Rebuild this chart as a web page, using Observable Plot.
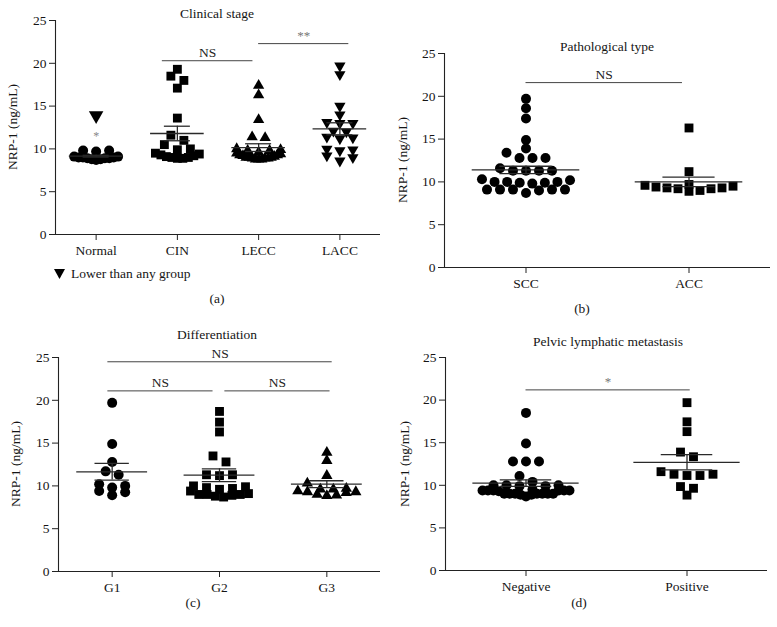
<!DOCTYPE html>
<html><head><meta charset="utf-8">
<script src="https://cdn.jsdelivr.net/npm/d3@7"></script>
<script src="https://cdn.jsdelivr.net/npm/@observablehq/plot@0.6"></script>
<style>
body{margin:0;background:#fff;}
#root{position:relative;width:777px;height:627px;font-family:"Liberation Serif","Times New Roman",serif;color:#151515;overflow:hidden;}
.lbl{position:absolute;transform:translate(-50%,-50%);white-space:nowrap;font-size:13.5px;line-height:1;}
.ylab{position:absolute;transform:translate(-50%,-50%) rotate(-90deg);white-space:nowrap;font-size:13.5px;line-height:1;}
.panel{position:absolute;}
.panel svg{overflow:visible;}
</style></head><body><div id="root"></div>
<script>
// ---------- DATA ----------
// (a) Clinical stage
const stageCats = ["Normal", "CIN", "LECC", "LACC"];
const stageNormal = [9.8, 9.7, 9.8, 9.0, 8.9, 8.8, 9.1, 8.9, 9.0, 8.8, 8.7, 9.0, 8.9, 9.1];
const stageCIN = [19.3, 18.5, 18.0, 17.1, 13.6, 11.6, 11.0, 10.5, 10.0, 9.9, 9.5, 9.3, 9.2, 9.0, 9.0, 8.9, 8.9, 9.1, 9.4];
const stageLECC = [17.4, 16.3, 13.4, 11.4, 11.3, 10.0, 9.9, 9.8, 9.8, 9.6, 9.5, 9.4, 9.3, 9.3, 9.2, 9.1, 9.0, 9.0, 8.9, 8.9, 8.8, 8.8, 8.8, 8.9, 9.0];
const stageLACC = [19.7, 18.7, 15.0, 14.0, 13.0, 13.0, 13.1, 12.1, 12.0, 11.4, 11.3, 11.2, 10.0, 9.9, 9.8, 9.2, 9.0, 8.6];
const stageMeans = [9.15, 11.8, 10.15, 12.35];
const stageSEMs = [0.1, 0.85, 0.45, 0.7];
const stageBrackets = [
  {x1: 0.815, x2: 1.93, y: 20.3, label: "NS"},
  {x1: 2.0, x2: 3.11, y: 22.3, label: "**"}
];
const stageLowerMark = [{cat: 0, value: 13.9}];
const stageStar = [{cat: 0, value: 11.8}];
const stageLegend = "Lower than any group";

// (b) Pathological type
const pathCats = ["SCC", "ACC"];
const pathSCC = [19.7, 18.6, 17.4, 14.9, 13.9, 13.4, 12.8, 12.8, 12.8, 11.6, 11.3, 11.3, 11.3, 11.3, 10.3, 10.2, 10.0, 10.0, 10.0, 9.9, 9.9, 9.8, 9.1, 9.1, 9.1, 9.0, 9.1, 9.1, 8.7];
const pathACC = [16.3, 11.2, 9.7, 9.6, 9.5, 9.4, 9.3, 9.3, 9.2, 9.2, 9.0, 8.9];
const pathMeans = [11.4, 10.0];
const pathSEMs = [0.43, 0.55];
const pathBrackets = [{x1: 0.0, x2: 0.96, y: 21.6, label: "NS"}];

// (c) Differentiation
const diffCats = ["G1", "G2", "G3"];
const diffG1 = [19.7, 14.9, 12.8, 11.7, 11.3, 10.2, 10.0, 9.8, 9.4, 9.25, 8.9];
const diffG2 = [18.7, 17.45, 16.3, 13.5, 12.8, 11.3, 11.2, 11.3, 10.0, 9.9, 9.8, 9.7, 9.6, 9.4, 9.1, 9.0, 8.9, 8.8, 8.7, 9.0, 9.0];
const diffG3 = [13.9, 12.95, 11.2, 10.3, 9.7, 9.6, 9.6, 9.4, 9.3, 9.3, 9.2, 9.0, 8.9, 8.85];
const diffMeans = [11.65, 11.25, 10.2];
const diffSEMs = [0.97, 0.75, 0.4];
const diffBrackets = [
  {x1: -0.04, x2: 2.05, y: 24.5, label: "NS"},
  {x1: -0.04, x2: 0.94, y: 21.1, label: "NS"},
  {x1: 1.05, x2: 2.03, y: 21.1, label: "NS"}
];

// (d) Pelvic lymphatic metastasis
const lymphCats = ["Negative", "Positive"];
const lymphNeg = [18.5, 14.9, 12.8, 12.8, 12.8, 11.1, 10.4, 10.0, 10.0, 10.0, 9.9, 9.9, 9.5, 9.4, 9.4, 9.4, 9.4, 9.4, 9.4, 9.3, 9.0, 9.0, 9.0, 9.0, 9.0, 9.0, 9.0, 8.9, 8.9, 8.7];
const lymphPos = [19.7, 17.45, 16.3, 13.9, 13.35, 11.6, 11.3, 11.3, 11.15, 11.15, 9.85, 9.65, 8.85];
const lymphMeans = [10.25, 12.7];
const lymphSEMs = [0.38, 0.9];
const lymphBrackets = [{x1: 0.0, x2: 1.02, y: 21.2, label: "*"}];

const yTicks = [0, 5, 10, 15, 20, 25];
const yTitle = "NRP-1 (ng/mL)";

// ---------- SYMBOLS ----------
const triangleDown = {
  draw(context, size) {
    const y = -Math.sqrt(size / (Math.sqrt(3) * 3));
    context.moveTo(0, -2 * y);
    context.lineTo(-Math.sqrt(3) * y, y);
    context.lineTo(Math.sqrt(3) * y, y);
    context.closePath();
  }
};
const SYM = {
  circle: {symbol: "circle", r: 5},
  square: {symbol: "square", r: 5},
  up: {symbol: "triangle", r: 4.2},
  down: {symbol: triangleDown, r: 4.2}
};

// ---------- LAYOUT (scatter-dot arrangement, GraphPad-like rows) ----------
function layout(values, stepPx) {
  const sorted = values.slice().sort((a, b) => a - b);
  const rows = [];
  let cur = null;
  for (const v of sorted) {
    if (!cur || v - cur.start >= 0.75) { cur = {start: v, vals: []}; rows.push(cur); }
    cur.vals.push(v);
  }
  const maxHalf = 0.27 * stepPx, sp = 13;
  const out = [];
  for (const row of rows) {
    const n = row.vals.length;
    let s = sp;
    if (n > 1 && (n - 1) * s / 2 > maxHalf) s = 2 * maxHalf / (n - 1);
    const slots = d3.range(n).map(j => (j - (n - 1) / 2) * s);
    slots.sort((a, b) => Math.abs(a) - Math.abs(b) || b - a);
    row.vals.forEach((v, k) => out.push({v, off: slots[k] / stepPx}));
  }
  return out;
}

function makePanel(cfg) {
  const {cats, groups, syms, means, sems, brackets, width, height, ml, mr, mt, mb, extra} = cfg;
  const n = cats.length;
  const stepPx = (width - ml - mr) / n;
  const lineColor = "#2a2a2a";
  const marks = [
    Plot.ruleY([0], {stroke: "#222", strokeWidth: 1.1}),
    Plot.ruleX([-0.5], {stroke: "#222", strokeWidth: 1.1}),
    Plot.axisX(d3.range(n), {tickFormat: i => cats[i], tickSize: 6, tickPadding: 5, label: null, stroke: "#222"}),
    Plot.axisY(yTicks, {tickSize: 6, tickPadding: 3, label: null, stroke: "#222"})
  ];
  groups.forEach((vals, i) => {
    const pts = layout(vals, stepPx).map(p => ({x: i + p.off, y: p.v}));
    marks.push(Plot.dot(pts, {x: "x", y: "y", r: syms[i].r, symbol: syms[i].symbol, fill: "#000"}));
  });
  const stats = means.map((m, i) => ({i, m, s: sems[i]}));
  marks.push(Plot.ruleY(stats, {y: "m", x1: d => d.i - 0.33, x2: d => d.i + 0.33, stroke: lineColor, strokeWidth: 1.3}));
  marks.push(Plot.ruleX(stats, {x: "i", y1: d => d.m - d.s, y2: d => d.m + d.s, stroke: lineColor, strokeWidth: 1.3}));
  marks.push(Plot.ruleY(stats.flatMap(d => [{i: d.i, y: d.m + d.s}, {i: d.i, y: d.m - d.s}]),
    {y: "y", x1: d => d.i - 0.16, x2: d => d.i + 0.16, stroke: lineColor, strokeWidth: 1.3}));
  marks.push(Plot.ruleY(brackets, {y: "y", x1: "x1", x2: "x2", stroke: "#444", strokeWidth: 1}));
  marks.push(Plot.text(brackets.filter(b => b.label === "NS"), {x: d => (d.x1 + d.x2) / 2, y: "y", text: "label", dy: -8, fill: "#222"}));
  marks.push(Plot.text(brackets.filter(b => b.label !== "NS"), {x: d => (d.x1 + d.x2) / 2, y: "y", text: "label", dy: -8, fill: "#777", fontSize: 13}));
  if (extra) marks.push(...extra);
  return Plot.plot({
    width, height, marginLeft: ml, marginRight: mr, marginTop: mt, marginBottom: mb,
    x: {domain: [-0.5, n - 0.5]},
    y: {domain: [0, 25]},
    style: {fontFamily: "'Liberation Serif', 'Times New Roman', serif", fontSize: "13.5px", color: "#151515", background: "transparent"},
    marks
  });
}

const root = document.getElementById("root");
function place(el, left, top) {
  const d = document.createElement("div");
  d.className = "panel";
  d.style.left = left + "px"; d.style.top = top + "px";
  d.appendChild(el); root.appendChild(d);
}
function label(text, x, y, cls = "lbl") {
  const d = document.createElement("div");
  d.className = cls; d.textContent = text;
  d.style.left = x + "px"; d.style.top = y + "px";
  root.appendChild(d);
}

// (a)
place(makePanel({
  cats: stageCats, groups: [stageNormal, stageCIN, stageLECC, stageLACC],
  syms: [SYM.circle, SYM.square, SYM.up, SYM.down],
  means: stageMeans, sems: stageSEMs, brackets: stageBrackets,
  width: 388, height: 262, ml: 55, mr: 8, mt: 20, mb: 28,
  extra: [
    Plot.dot(stageLowerMark, {x: "cat", y: "value", r: 5.4, symbol: triangleDown, fill: "#000"}),
    Plot.text(stageStar, {x: "cat", y: "value", text: () => "*", dy: 3, fill: "#888", fontSize: 12})
  ]
}), 0, 0);
// (b)
place(makePanel({
  cats: pathCats, groups: [pathSCC, pathACC], syms: [SYM.circle, SYM.square],
  means: pathMeans, sems: pathSEMs, brackets: pathBrackets,
  width: 387, height: 295, ml: 54, mr: 7, mt: 53, mb: 28
}), 390, 0);
// (c)
place(makePanel({
  cats: diffCats, groups: [diffG1, diffG2, diffG3], syms: [SYM.circle, SYM.square, SYM.up],
  means: diffMeans, sems: diffSEMs, brackets: diffBrackets,
  width: 388, height: 290, ml: 58, mr: 8, mt: 47, mb: 29
}), 0, 310);
// (d)
place(makePanel({
  cats: lymphCats, groups: [lymphNeg, lymphPos], syms: [SYM.circle, SYM.square],
  means: lymphMeans, sems: lymphSEMs, brackets: lymphBrackets,
  width: 387, height: 290, ml: 55, mr: 10, mt: 47, mb: 30
}), 390, 310);

// titles, axis titles, captions
label("Clinical stage", 217, 14);
label("Pathological type", 607, 47);
label("Differentiation", 217, 335);
label("Pelvic lymphatic metastasis", 608, 342);
label("(a)", 217, 299);
label("(b)", 582, 309);
label("(c)", 193, 603);
label("(d)", 579, 603);
label(yTitle, 13, 127, "ylab");
label(yTitle, 403, 160, "ylab");
label(yTitle, 16, 464, "ylab");
label(yTitle, 405, 464, "ylab");

// legend for the ▼ marker
const leg = document.createElement("div");
leg.style.cssText = "position:absolute;left:54px;top:266px;height:16px;display:flex;align-items:center;gap:6px;font-size:13.5px;white-space:nowrap;";
leg.innerHTML = '<svg width="11" height="10"><path d="M0,0 L11,0 L5.5,10 Z" fill="#000"/></svg><span></span>';
leg.querySelector("span").textContent = stageLegend;
root.appendChild(leg);
</script>
</body></html>
